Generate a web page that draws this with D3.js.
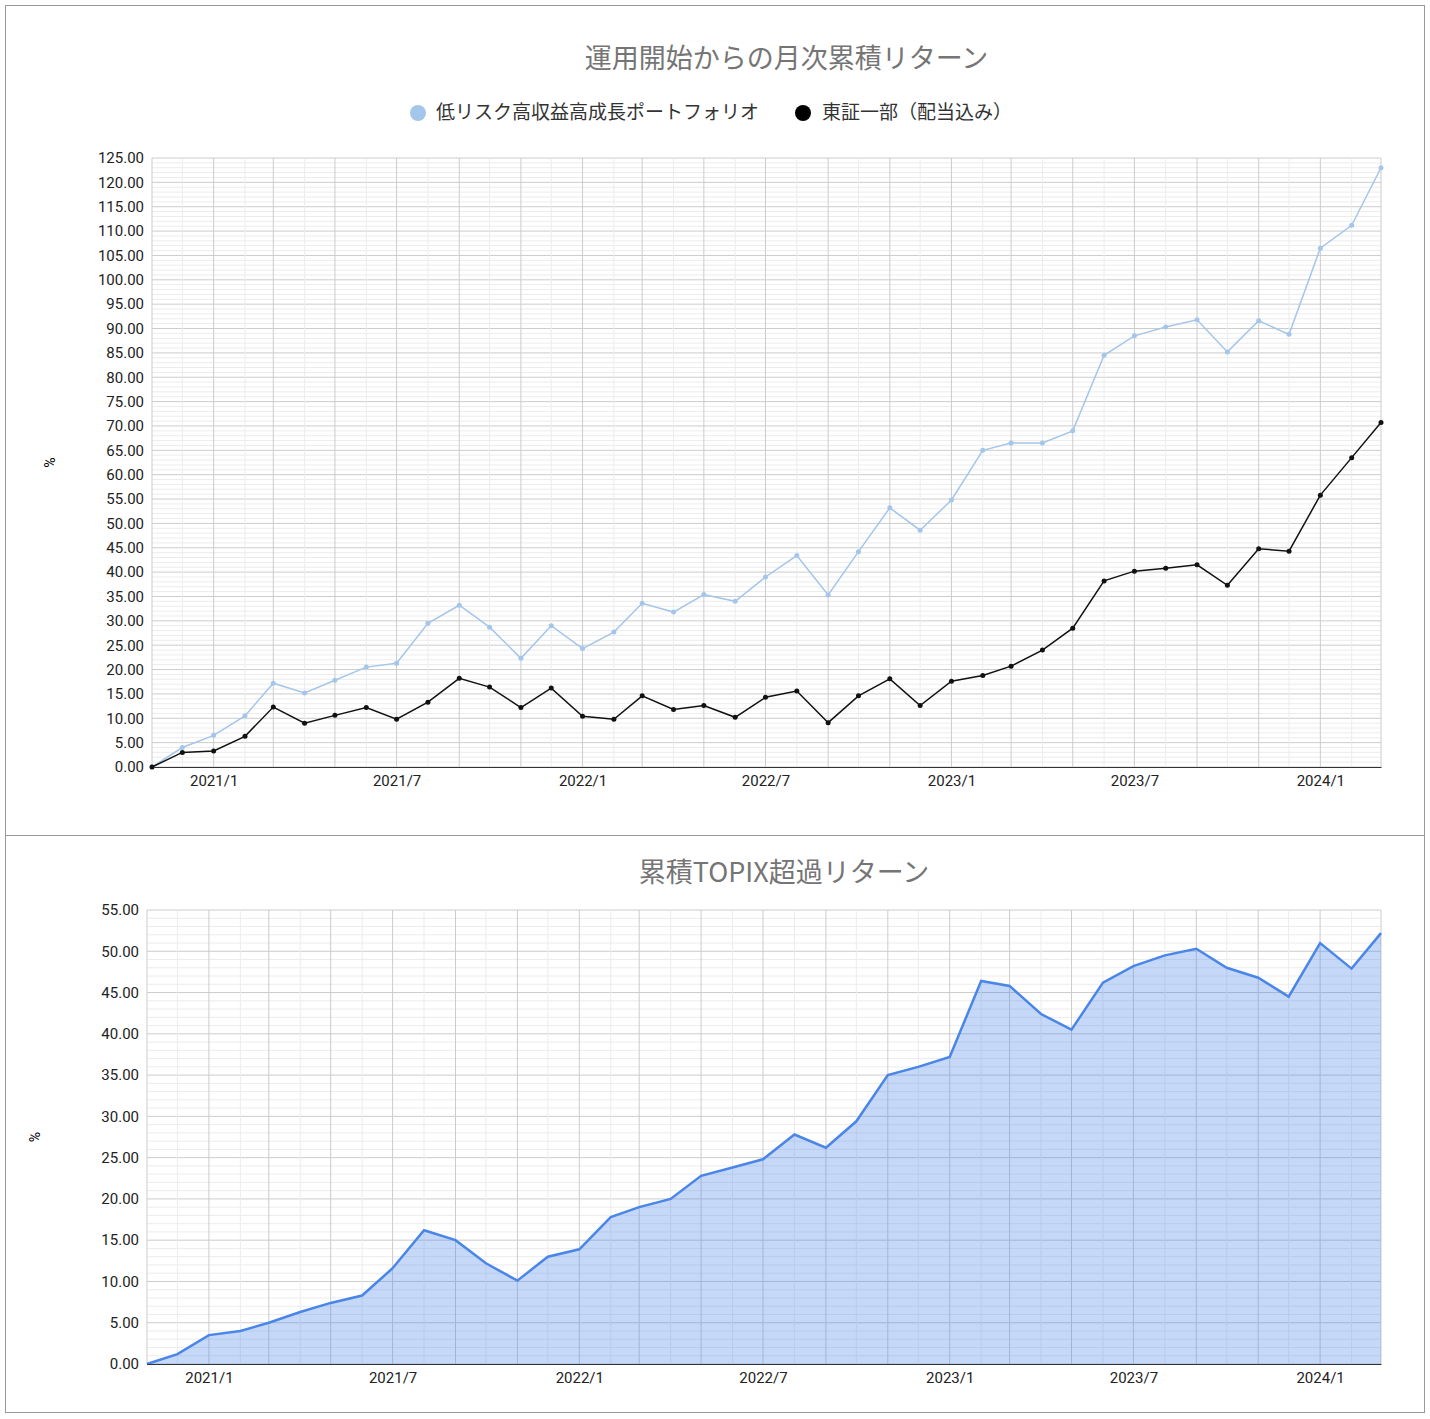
<!DOCTYPE html><html><head><meta charset="utf-8">
<script src="https://cdn.jsdelivr.net/npm/d3@7"></script>
<style>body{margin:0;background:#fff;font-family:Roboto,"Noto Sans CJK JP",sans-serif}</style></head><body>
<svg id="c" width="1430" height="1419"></svg>
<script>
const months=[];for(let i=0;i<41;i++){months.push(new Date(2020,10+i,1));}
const portfolio=[0,4,6.5,10.5,17.2,15.2,17.8,20.5,21.3,29.5,33.2,28.7,22.3,29,24.3,27.7,33.6,31.8,35.4,34,39,43.4,35.3,44.2,53.2,48.6,54.8,65,66.5,66.5,69,84.5,88.5,90.3,91.8,85.2,91.6,88.8,106.5,111.2,123];
const topix=[0,3,3.3,6.3,12.3,9,10.6,12.2,9.8,13.3,18.2,16.4,12.2,16.2,10.4,9.8,14.6,11.8,12.6,10.2,14.3,15.6,9.1,14.6,18.1,12.6,17.6,18.8,20.7,24,28.5,38.2,40.2,40.8,41.5,37.3,44.8,44.3,55.8,63.5,70.7];
const excess=[0,1.2,3.5,4,5,6.3,7.4,8.3,11.6,16.2,15,12.2,10.1,13,13.9,17.8,19,20,22.8,23.8,24.8,27.8,26.2,29.4,35,36,37.2,46.4,45.8,42.4,40.5,46.2,48.2,49.5,50.3,48,46.8,44.5,51,47.9,52.2];
const tickLabels=["2021/1","2021/7","2022/1","2022/7","2023/1","2023/7","2024/1"];
const tickDates=tickLabels.map(s=>{const[a,b]=s.split("/");return new Date(+a,+b-1,1);});

const svg=d3.select("#c");
svg.append("rect").attr("x",5.5).attr("y",5.5).attr("width",1419).attr("height",1407).attr("fill","none").attr("stroke","#999");
svg.append("line").attr("x1",5).attr("x2",1425).attr("y1",835.5).attr("y2",835.5).attr("stroke","#999");

function panel(o){
  const x=d3.scaleTime().domain([months[0],months[40]]).range([o.x0,o.x1]);
  const y=d3.scaleLinear().domain([0,o.max]).range([o.y0,o.y1]);
  const g=svg.append("g");
  for(let v=0;v<=o.max;v+=1){g.append("line").attr("x1",o.x0).attr("x2",o.x1).attr("y1",y(v)).attr("y2",y(v)).attr("stroke",v%5==0?"#ccc":"#ececec").attr("stroke-width",1);}
  months.forEach((m,i)=>{g.append("line").attr("x1",x(m)).attr("x2",x(m)).attr("y1",o.y0).attr("y2",o.y1).attr("stroke",i%2==0?"#ccc":"#ececec");});
  const ya=d3.axisLeft(y).tickValues(d3.range(0,o.max+0.1,5)).tickFormat(d3.format(".2f")).tickSize(0).tickPadding(8);
  g.append("g").attr("transform",`translate(${o.x0},0)`).call(ya).call(s=>s.select(".domain").remove()).selectAll("text").attr("font-size",15).attr("fill","#222").attr("font-family","Roboto");
  const xa=d3.axisBottom(x).tickValues(tickDates).tickFormat((d,i)=>tickLabels[i]).tickSize(0).tickPadding(8);
  g.append("g").attr("transform",`translate(0,${o.y0})`).call(xa).call(s=>s.select(".domain").attr("stroke","#333")).selectAll("text").attr("font-size",15).attr("fill","#222").attr("font-family","Roboto");
  g.append("text").attr("transform",`translate(${o.lx},${(o.y0+o.y1)/2}) rotate(-90)`).attr("text-anchor","middle").attr("font-size",14).text("%");
  g.append("text").attr("x",(o.x0+o.x1)/2+20).attr("y",o.ty).attr("text-anchor","middle").attr("font-size",27).attr("fill","#757575").attr("font-family","'Noto Sans CJK JP'").text(o.title);
  return {x,y,g};
}
const p1=panel({x0:152,x1:1381,y0:767,y1:158,max:125,title:"運用開始からの月次累積リターン",ty:68,lx:55});
const line1=d3.line().x((d,i)=>p1.x(months[i])).y(d=>p1.y(d));
[[portfolio,"#a4c6ea",1.5],[topix,"#111",1.5]].forEach(([arr,c,w])=>{
  p1.g.append("path").attr("d",line1(arr)).attr("fill","none").attr("stroke",c).attr("stroke-width",w);
  p1.g.selectAll(null).data(arr).join("circle").attr("cx",(d,i)=>p1.x(months[i])).attr("cy",d=>p1.y(d)).attr("r",2.5).attr("fill",c);
});
const leg=svg.append("g").attr("font-family","'Noto Sans CJK JP'").attr("font-size",19).attr("fill","#333");
leg.append("circle").attr("cx",418).attr("cy",113).attr("r",8).attr("fill","#a4c6ea");
leg.append("text").attr("x",436).attr("y",119).text("低リスク高収益高成長ポートフォリオ");
leg.append("circle").attr("cx",803).attr("cy",113).attr("r",8).attr("fill","#000");
leg.append("text").attr("x",822).attr("y",119).text("東証一部（配当込み）");

const p2=panel({x0:147,x1:1381,y0:1364,y1:910,max:55,title:"累積TOPIX超過リターン",ty:882,lx:40});
const area=d3.area().x((d,i)=>p2.x(months[i])).y0(p2.y(0)).y1(d=>p2.y(d));
p2.g.append("path").attr("d",area(excess)).attr("fill","#4a86e8").attr("fill-opacity",0.32);
p2.g.append("path").attr("d",d3.line().x((d,i)=>p2.x(months[i])).y(d=>p2.y(d))(excess)).attr("fill","none").attr("stroke","#4a86e8").attr("stroke-width",2.5);
p2.g.append("line").attr("x1",147).attr("x2",1381).attr("y1",1364.5).attr("y2",1364.5).attr("stroke","#333");
</script></body></html>
